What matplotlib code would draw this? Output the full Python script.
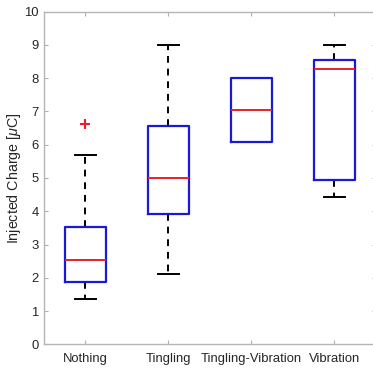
import matplotlib
matplotlib.use("Agg")
import matplotlib.pyplot as plt

plt.rcParams['font.family'] = ['Liberation Sans', 'DejaVu Sans']
plt.rcParams['mathtext.fontset'] = 'custom'
plt.rcParams['mathtext.it'] = 'Liberation Sans:italic'

# categories and box statistics
labels = ['Nothing', 'Tingling', 'Tingling-Vibration', 'Vibration']
whislo = [1.36, 2.10, 6.08, 4.42]
q1 = [1.88, 3.93, 6.08, 4.93]
med = [2.52, 5.00, 7.05, 8.28]
q3 = [3.53, 6.55, 8.00, 8.55]
whishi = [5.70, 9.00, 8.00, 9.00]
fliers = [[6.62], [], [], []]

stats = []
for i in range(len(labels)):
    stats.append(dict(label=labels[i], whislo=whislo[i], q1=q1[i], med=med[i],
                      q3=q3[i], whishi=whishi[i], fliers=fliers[i]))

fig = plt.figure(figsize=(3.73, 3.68), dpi=100)
# right edge of the axes is cut off in the reference
ax = fig.add_axes([44/373, 1 - 344.3/368, 331.7/373, 332.6/368])

ax.bxp(stats, positions=[1, 2, 3, 4], widths=0.5, capwidths=0.25,
       boxprops=dict(color='#1a1ad6', linewidth=1.6, zorder=5),
       medianprops=dict(color='#e8202a', linewidth=1.4, zorder=6),
       whiskerprops=dict(color='black', linewidth=1.4, linestyle=(0, (3.5, 3)), zorder=3),
       capprops=dict(color='black', linewidth=1.4, zorder=3),
       flierprops=dict(marker='+', markeredgecolor='#e8202a', markersize=7,
                       markeredgewidth=1.5, zorder=4))

ax.set_xlim(0.5, 4.5)
ax.set_ylim(0, 10)
ax.set_yticks(range(0, 11))
ax.set_ylabel('Injected Charge [$\\mu$C]', fontsize=10.3, color='#262626')
ax.yaxis.set_label_coords(-0.064, 0.5)
ax.tick_params(direction='in', length=3, color='#b0b0b0', labelsize=9.4,
               labelcolor='#262626', top=True, right=True)
ax.tick_params(axis='x', pad=6)
ax.tick_params(axis='y', pad=4)
for s in ax.spines.values():
    s.set_color('#b5b5b5')
    s.set_linewidth(1.0)

fig.savefig('out.png', dpi=100)
